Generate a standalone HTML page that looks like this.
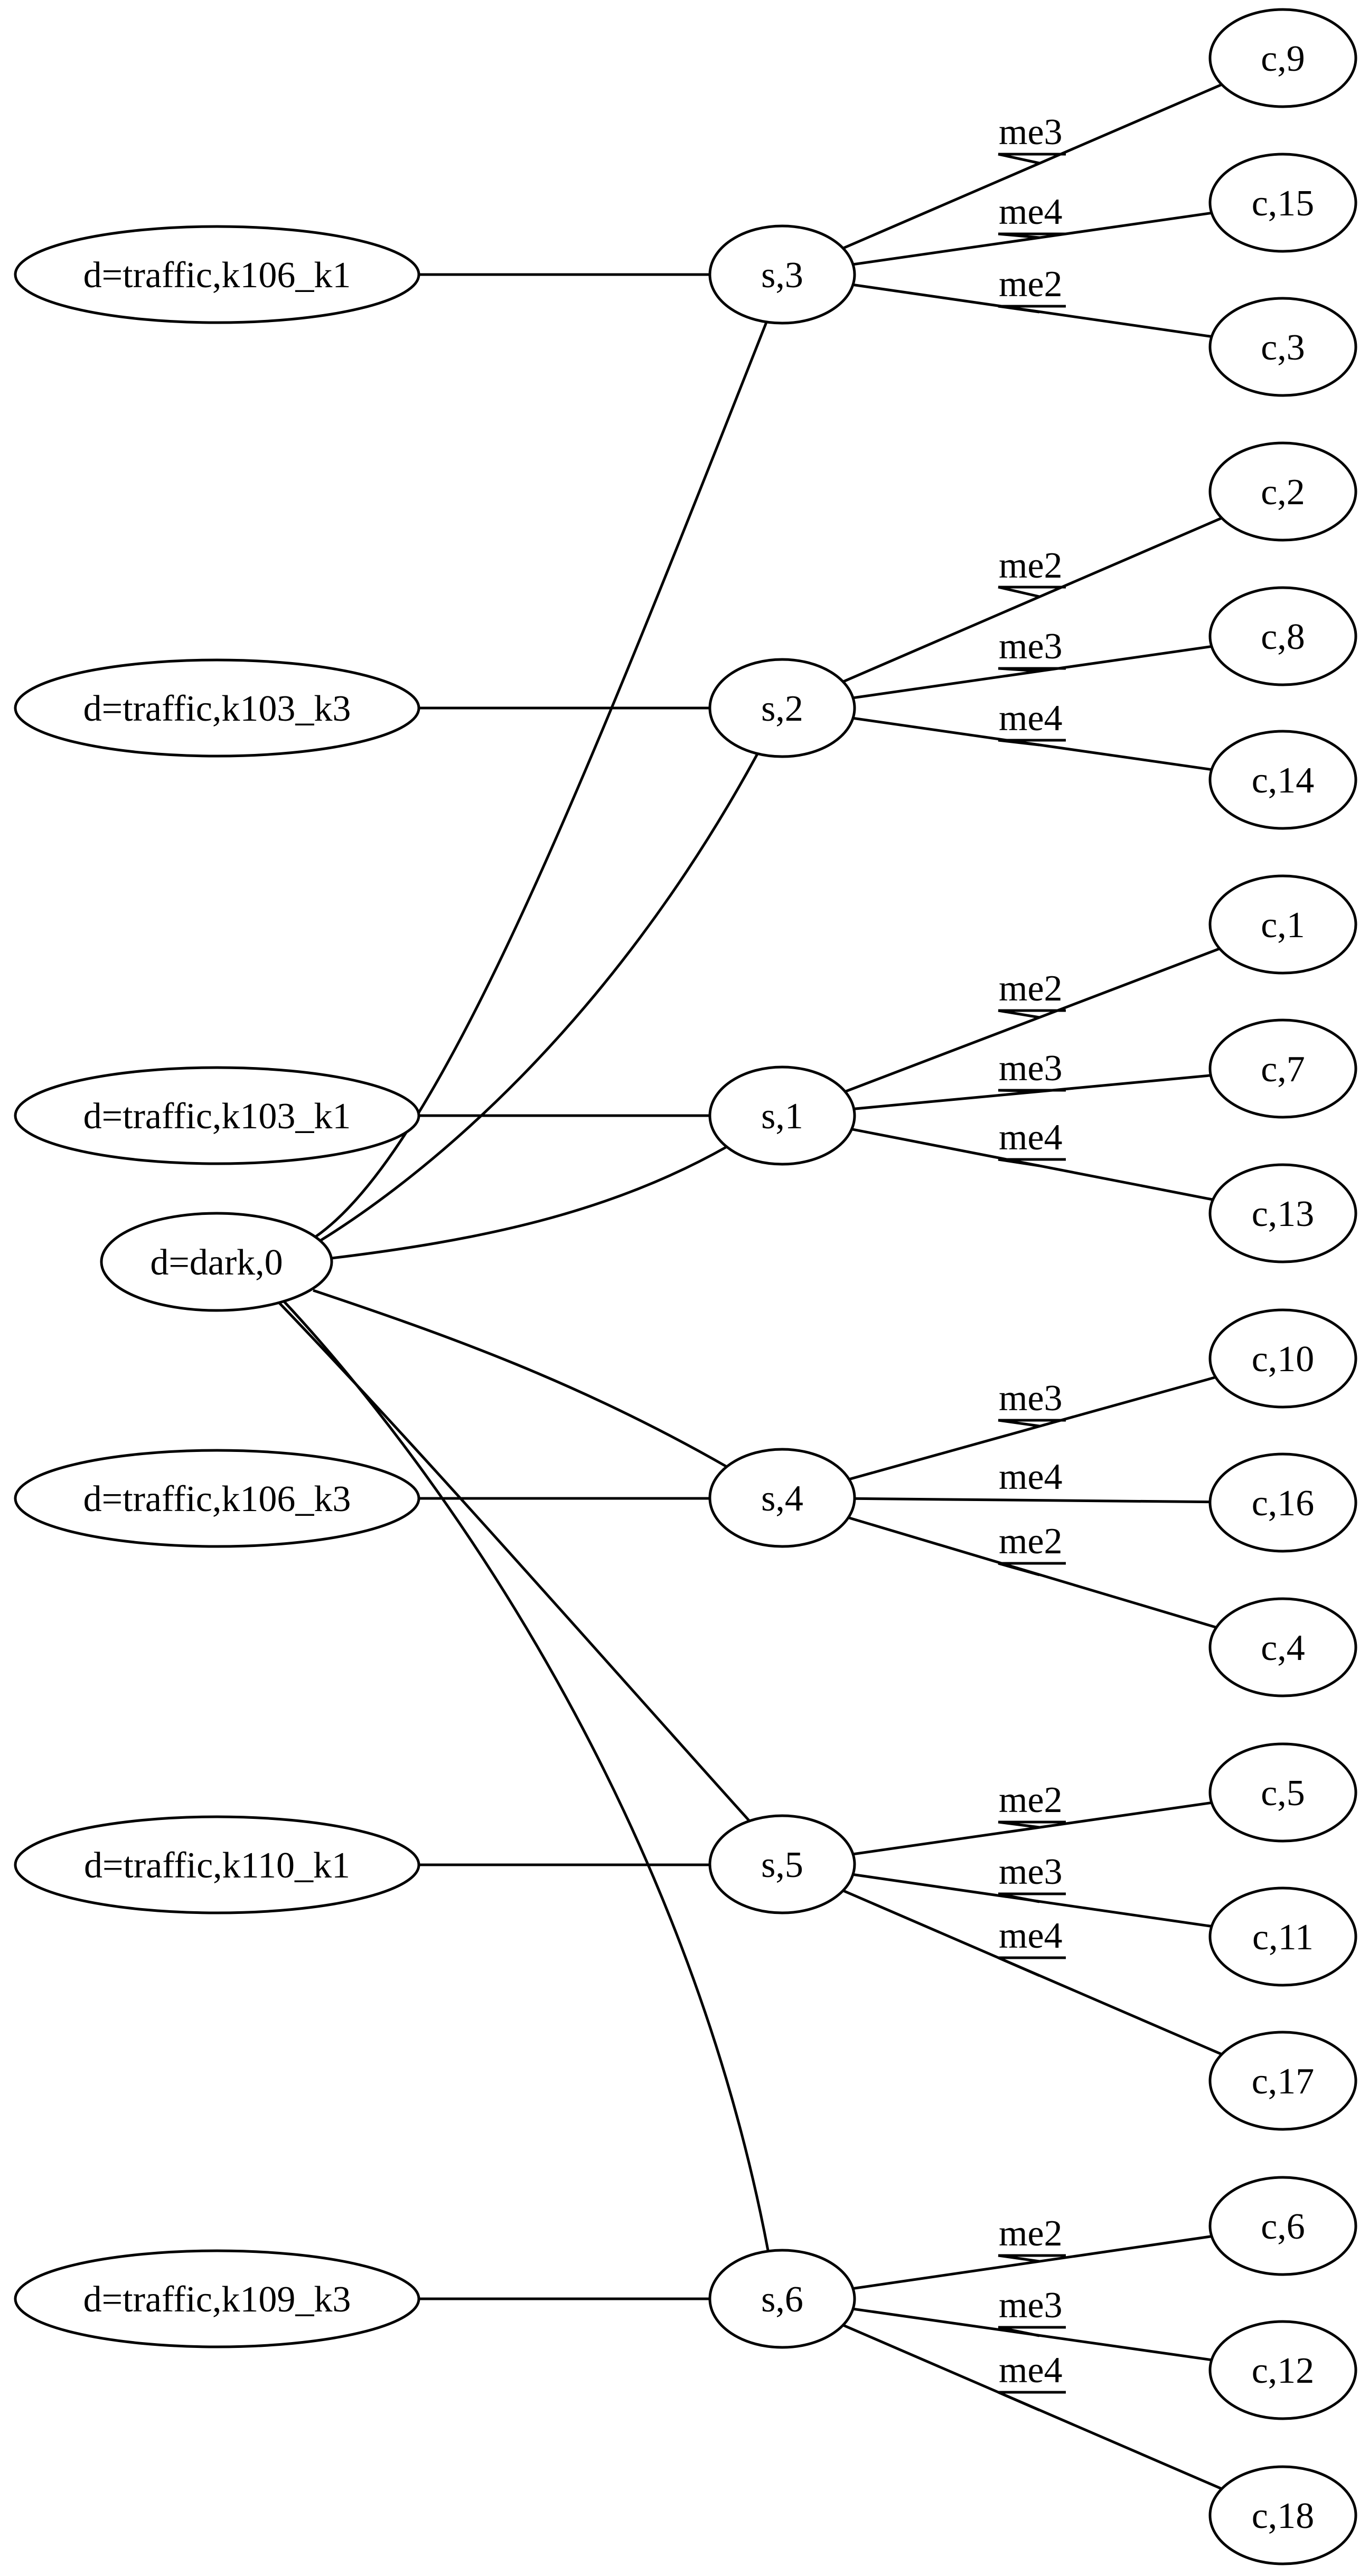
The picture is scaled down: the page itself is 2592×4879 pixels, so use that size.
<!DOCTYPE html>
<html><head><meta charset="utf-8"><style>html,body{margin:0;padding:0;background:#fff}svg{display:block}</style></head>
<body>
<svg xmlns="http://www.w3.org/2000/svg" width="2592" height="4879" viewBox="0 0 2592 4879">
<rect width="2592" height="4879" fill="#fff"/>
<g stroke="#000" stroke-width="5" fill="none">
<!-- traffic -> s -->
<line x1="793" y1="520" x2="1344" y2="520"/>
<line x1="793" y1="1341" x2="1344" y2="1341"/>
<line x1="793" y1="2113" x2="1344" y2="2113"/>
<line x1="793" y1="2838" x2="1344" y2="2838"/>
<line x1="793" y1="3532" x2="1344" y2="3532"/>
<line x1="793" y1="4354" x2="1344" y2="4354"/>
<!-- dark -> s -->
<path d="M598,2342 C830,2180 1100,1500 1452,608"/>
<path d="M606,2350 C800,2230 1150,1950 1434,1428"/>
<path d="M628,2383 C900,2350 1150,2300 1376,2172"/>
<path d="M593,2444 C850,2530 1100,2620 1376,2778"/>
<path d="M529,2468 C800,2750 1150,3150 1419,3449"/>
<path d="M535,2462 C850,2800 1300,3450 1454,4262"/>
<!-- s -> c -->
<line x1="1481" y1="520" x2="2429" y2="110"/>
<line x1="1481" y1="520" x2="2429" y2="384"/>
<line x1="1481" y1="520" x2="2429" y2="657"/>
<line x1="1481" y1="1341" x2="2429" y2="931"/>
<line x1="1481" y1="1341" x2="2429" y2="1205"/>
<line x1="1481" y1="1341" x2="2429" y2="1477"/>
<line x1="1481" y1="2113" x2="2429" y2="1751"/>
<line x1="1481" y1="2113" x2="2429" y2="2024"/>
<line x1="1481" y1="2113" x2="2429" y2="2298"/>
<line x1="1481" y1="2837" x2="2429" y2="2573"/>
<line x1="1481" y1="2837" x2="2429" y2="2846"/>
<line x1="1481" y1="2837" x2="2429" y2="3120"/>
<line x1="1481" y1="3531" x2="2429" y2="3395"/>
<line x1="1481" y1="3531" x2="2429" y2="3668"/>
<line x1="1481" y1="3531" x2="2429" y2="3941"/>
<line x1="1481" y1="4354" x2="2429" y2="4216"/>
<line x1="1481" y1="4354" x2="2429" y2="4489"/>
<line x1="1481" y1="4354" x2="2429" y2="4764"/>
<!-- label underlines + ticks -->
<path d="M1890,292 H2018 M1890,292 L1968,309"/>
<path d="M1890,443 H2018 M1890,443 L1968,450"/>
<path d="M1890,580 H2018 M1890,580 L1968,591"/>
<path d="M1890,1112 H2018 M1890,1112 L1968,1130"/>
<path d="M1890,1266 H2018 M1890,1266 L1968,1271"/>
<path d="M1890,1402 H2018 M1890,1402 L1968,1411"/>
<path d="M1890,1914 H2018 M1890,1914 L1968,1927"/>
<path d="M1890,2065 H2018 M1890,2065 L1968,2067"/>
<path d="M1890,2196 H2018 M1890,2196 L1968,2208"/>
<path d="M1890,2690 H2018 M1890,2690 L1968,2701"/>
<path d="M1890,2961 H2018 M1890,2961 L1968,2983"/>
<path d="M1890,3451 H2018 M1890,3451 L1968,3461"/>
<path d="M1890,3587 H2018 M1890,3587 L1968,3602"/>
<path d="M1890,3708 H2018 M1890,3708 L1968,3742"/>
<path d="M1890,4272 H2018 M1890,4272 L1968,4283"/>
<path d="M1890,4408 H2018 M1890,4408 L1968,4424"/>
<path d="M1890,4531 H2018 M1890,4531 L1968,4565"/>
</g>
<g stroke="#000" stroke-width="5" fill="#fff">
<ellipse cx="411" cy="520" rx="382" ry="91"/>
<ellipse cx="411" cy="1341" rx="382" ry="91"/>
<ellipse cx="411" cy="2113" rx="382" ry="91"/>
<ellipse cx="411" cy="2838" rx="382" ry="91"/>
<ellipse cx="411" cy="3532" rx="382" ry="91"/>
<ellipse cx="411" cy="4354" rx="382" ry="91"/>
<ellipse cx="410" cy="2390" rx="218" ry="92"/>
<ellipse cx="1481" cy="520" rx="137" ry="92"/>
<ellipse cx="1481" cy="1341" rx="137" ry="92"/>
<ellipse cx="1481" cy="2113" rx="137" ry="92"/>
<ellipse cx="1481" cy="2837" rx="137" ry="92"/>
<ellipse cx="1481" cy="3531" rx="137" ry="92"/>
<ellipse cx="1481" cy="4354" rx="137" ry="92"/>
<ellipse cx="2429" cy="110" rx="138" ry="92"/>
<ellipse cx="2429" cy="384" rx="138" ry="92"/>
<ellipse cx="2429" cy="657" rx="138" ry="92"/>
<ellipse cx="2429" cy="931" rx="138" ry="92"/>
<ellipse cx="2429" cy="1205" rx="138" ry="92"/>
<ellipse cx="2429" cy="1477" rx="138" ry="92"/>
<ellipse cx="2429" cy="1751" rx="138" ry="92"/>
<ellipse cx="2429" cy="2024" rx="138" ry="92"/>
<ellipse cx="2429" cy="2298" rx="138" ry="92"/>
<ellipse cx="2429" cy="2573" rx="138" ry="92"/>
<ellipse cx="2429" cy="2846" rx="138" ry="92"/>
<ellipse cx="2429" cy="3120" rx="138" ry="92"/>
<ellipse cx="2429" cy="3395" rx="138" ry="92"/>
<ellipse cx="2429" cy="3668" rx="138" ry="92"/>
<ellipse cx="2429" cy="3941" rx="138" ry="92"/>
<ellipse cx="2429" cy="4216" rx="138" ry="92"/>
<ellipse cx="2429" cy="4489" rx="138" ry="92"/>
<ellipse cx="2429" cy="4764" rx="138" ry="92"/>
</g>
<g font-family="Liberation Serif, serif" font-size="70" text-anchor="middle" fill="#000">
<text x="411" y="544">d=traffic,k106_k1</text>
<text x="411" y="1365">d=traffic,k103_k3</text>
<text x="411" y="2137">d=traffic,k103_k1</text>
<text x="411" y="2862">d=traffic,k106_k3</text>
<text x="411" y="3556">d=traffic,k110_k1</text>
<text x="411" y="4378">d=traffic,k109_k3</text>
<text x="410" y="2414">d=dark,0</text>
<text x="1481" y="544">s,3</text>
<text x="1481" y="1365">s,2</text>
<text x="1481" y="2137">s,1</text>
<text x="1481" y="2861">s,4</text>
<text x="1481" y="3555">s,5</text>
<text x="1481" y="4378">s,6</text>
<text x="2429" y="134">c,9</text>
<text x="2429" y="408">c,15</text>
<text x="2429" y="681">c,3</text>
<text x="2429" y="955">c,2</text>
<text x="2429" y="1229">c,8</text>
<text x="2429" y="1501">c,14</text>
<text x="2429" y="1775">c,1</text>
<text x="2429" y="2048">c,7</text>
<text x="2429" y="2322">c,13</text>
<text x="2429" y="2597">c,10</text>
<text x="2429" y="2870">c,16</text>
<text x="2429" y="3144">c,4</text>
<text x="2429" y="3419">c,5</text>
<text x="2429" y="3692">c,11</text>
<text x="2429" y="3965">c,17</text>
<text x="2429" y="4240">c,6</text>
<text x="2429" y="4513">c,12</text>
<text x="2429" y="4788">c,18</text>
</g>
<g font-family="Liberation Serif, serif" font-size="70" text-anchor="start" fill="#000">
<text x="1891" y="273">me3</text>
<text x="1891" y="424">me4</text>
<text x="1891" y="561">me2</text>
<text x="1891" y="1094">me2</text>
<text x="1891" y="1247">me3</text>
<text x="1891" y="1383">me4</text>
<text x="1891" y="1895">me2</text>
<text x="1891" y="2046">me3</text>
<text x="1891" y="2177">me4</text>
<text x="1891" y="2671">me3</text>
<text x="1891" y="2820">me4</text>
<text x="1891" y="2942">me2</text>
<text x="1891" y="3432">me2</text>
<text x="1891" y="3568">me3</text>
<text x="1891" y="3689">me4</text>
<text x="1891" y="4253">me2</text>
<text x="1891" y="4389">me3</text>
<text x="1891" y="4512">me4</text>
</g>
</svg>
</body></html>
